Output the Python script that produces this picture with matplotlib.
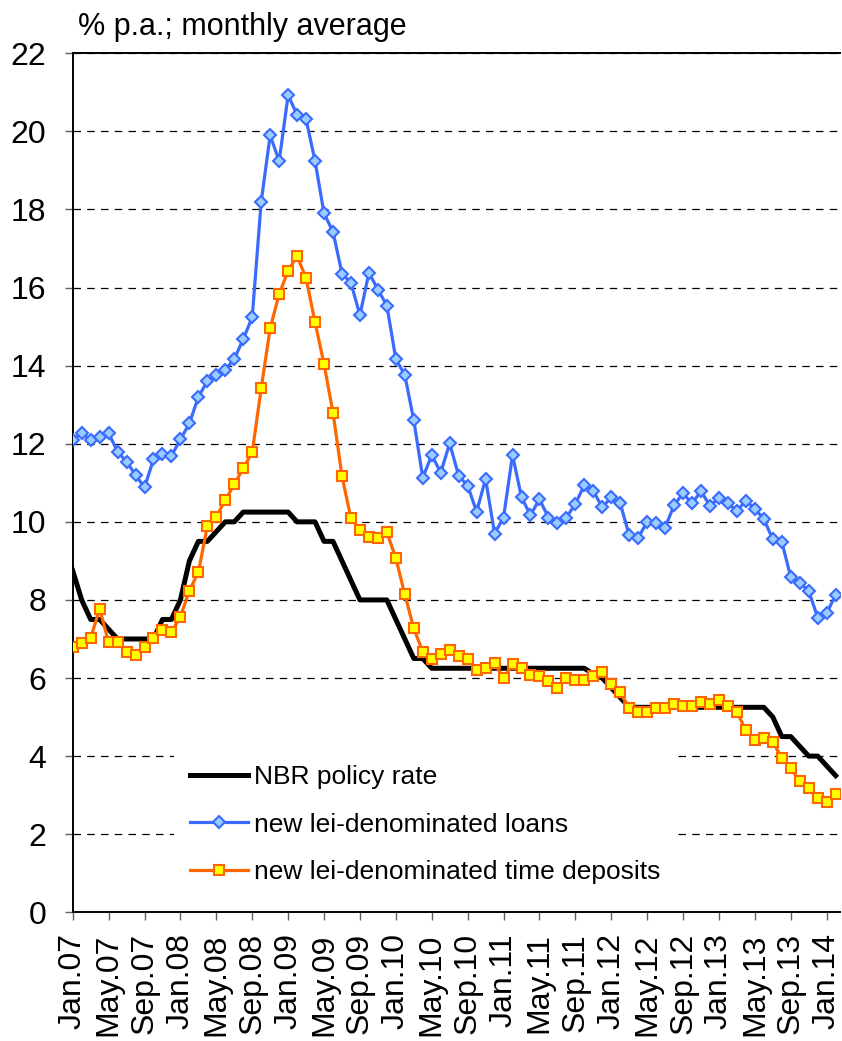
#!/usr/bin/env python3

import numpy as np
import matplotlib
matplotlib.use('Agg')
import matplotlib.pyplot as plt

plt.rcParams['font.family'] = ['Liberation Sans', 'DejaVu Sans']

# monthly data, Jan.07 .. Feb.14
policy = [8.75, 8.0, 7.5, 7.5, 7.25, 7.0, 7.0, 7.0, 7.0, 7.0, 7.5, 7.5,
          8.0, 9.0, 9.5, 9.5, 9.75, 10.0, 10.0, 10.25, 10.25, 10.25, 10.25, 10.25,
          10.25, 10.0, 10.0, 10.0, 9.5, 9.5, 9.0, 8.5, 8.0, 8.0, 8.0, 8.0,
          7.5, 7.0, 6.5, 6.5, 6.25, 6.25, 6.25, 6.25, 6.25, 6.25, 6.25, 6.25,
          6.25, 6.25, 6.25, 6.25, 6.25, 6.25, 6.25, 6.25, 6.25, 6.25, 6.1, 6.0,
          5.75, 5.5, 5.25, 5.25, 5.25, 5.25, 5.25, 5.25, 5.25, 5.25, 5.25, 5.25,
          5.25, 5.25, 5.25, 5.25, 5.25, 5.25, 5.0, 4.5, 4.5, 4.25, 4.0, 4.0,
          3.75, 3.5]

loans = [12.1, 12.27, 12.1, 12.18, 12.27, 11.8, 11.54, 11.2, 10.88, 11.6, 11.73, 11.69,
         12.11, 12.52, 13.2, 13.6, 13.76, 13.9, 14.17, 14.68, 15.24, 18.2, 19.9, 19.24,
         20.93, 20.42, 20.31, 19.24, 17.9, 17.43, 16.36, 16.12, 15.29, 16.38, 15.95, 15.54,
         14.17, 13.76, 12.6, 11.13, 11.71, 11.26, 12.01, 11.18, 10.93, 10.26, 11.1, 9.7,
         10.11, 11.71, 10.63, 10.17, 10.58, 10.11, 9.96, 10.11, 10.46, 10.94, 10.79, 10.37,
         10.63, 10.47, 9.66, 9.59, 10.0, 9.96, 9.85, 10.43, 10.73, 10.47, 10.79, 10.4,
         10.62, 10.47, 10.28, 10.54, 10.33, 10.07, 9.55, 9.49, 8.58, 8.44, 8.23, 7.55,
         7.66, 8.13]

deposits = [6.8, 6.9, 7.02, 7.78, 6.91, 6.91, 6.66, 6.59, 6.8, 7.02, 7.23, 7.17,
            7.57, 8.24, 8.71, 9.89, 10.13, 10.56, 10.96, 11.37, 11.78, 13.42, 14.96, 15.83,
            16.43, 16.81, 16.24, 15.11, 14.04, 12.8, 11.17, 10.09, 9.79, 9.62, 9.58, 9.73,
            9.07, 8.14, 7.27, 6.67, 6.5, 6.61, 6.73, 6.56, 6.5, 6.2, 6.26, 6.38,
            5.99, 6.36, 6.25, 6.09, 6.05, 5.93, 5.74, 5.99, 5.95, 5.95, 6.06, 6.15,
            5.85, 5.63, 5.22, 5.12, 5.14, 5.22, 5.22, 5.33, 5.28, 5.28, 5.39, 5.33,
            5.44, 5.28, 5.12, 4.67, 4.41, 4.46, 4.37, 3.94, 3.69, 3.35, 3.18, 2.92,
            2.82, 3.03]

tick_labels = ['Jan.07', 'May.07', 'Sep.07', 'Jan.08', 'May.08', 'Sep.08',
               'Jan.09', 'May.09', 'Sep.09', 'Jan.10', 'May.10', 'Sep.10',
               'Jan.11', 'May.11', 'Sep.11', 'Jan.12', 'May.12', 'Sep.12',
               'Jan.13', 'May.13', 'Sep.13', 'Jan.14']

W, H = 842, 1041
fig = plt.figure(figsize=(W / 100, H / 100), dpi=100)
left, right, top, bottom = 72.7, 840, 53.3, 912.3
ax = fig.add_axes([left / W, 1 - bottom / H, (right - left) / W, (bottom - top) / H])

x = np.arange(len(policy))
ax.plot(x, policy, color='black', lw=3.6, label='NBR policy rate', zorder=3)
ax.plot(x, loans, color='#3A6BFF', lw=2.3, marker='D', ms=6.5,
        mfc='#99CCFF', mec='#3A6BFF', mew=1.5,
        label='new lei-denominated loans', zorder=4)
ax.plot(x, deposits, color='#FF6600', lw=2.3, marker='s', ms=7,
        mfc='#FFFF00', mec='#FF6600', mew=1.5,
        label='new lei-denominated time deposits', zorder=5)

ax.set_xlim(0, (right - left) / 8.976)
ax.set_ylim(0, 22)
ax.set_yticks(range(0, 23, 2))
ax.set_xticks(range(0, 86, 4))
ax.set_xticklabels(tick_labels, rotation=90, fontsize=23)
ax.tick_params(axis='y', labelsize=23, pad=13)
ax.tick_params(axis='x', pad=9)
ax.tick_params(direction='out', length=6, width=1, color='#606060')

ax.set_axisbelow(True)
ax.yaxis.grid(True, color='black', lw=0.9, linestyle=(0, (6, 5)))
for s in ['left', 'bottom', 'top']:
    ax.spines[s].set_color('black')
    ax.spines[s].set_linewidth(1.4)
ax.spines['right'].set_visible(False)

leg = ax.legend(loc='upper left', bbox_to_anchor=(174 / W, 1 - 749 / H),
                bbox_transform=fig.transFigure, fontsize=19, frameon=True,
                fancybox=False, edgecolor='none', facecolor='white', framealpha=1,
                handlelength=2.2, handletextpad=0.25, labelspacing=0.9,
                borderpad=0.6, borderaxespad=0, numpoints=1)
leg.set_zorder(6)

fig.text(78 / W, 1 - 27 / H, '% p.a.; monthly average', fontsize=22,
         ha='left', va='center')

fig.savefig('out.png', dpi=100)
